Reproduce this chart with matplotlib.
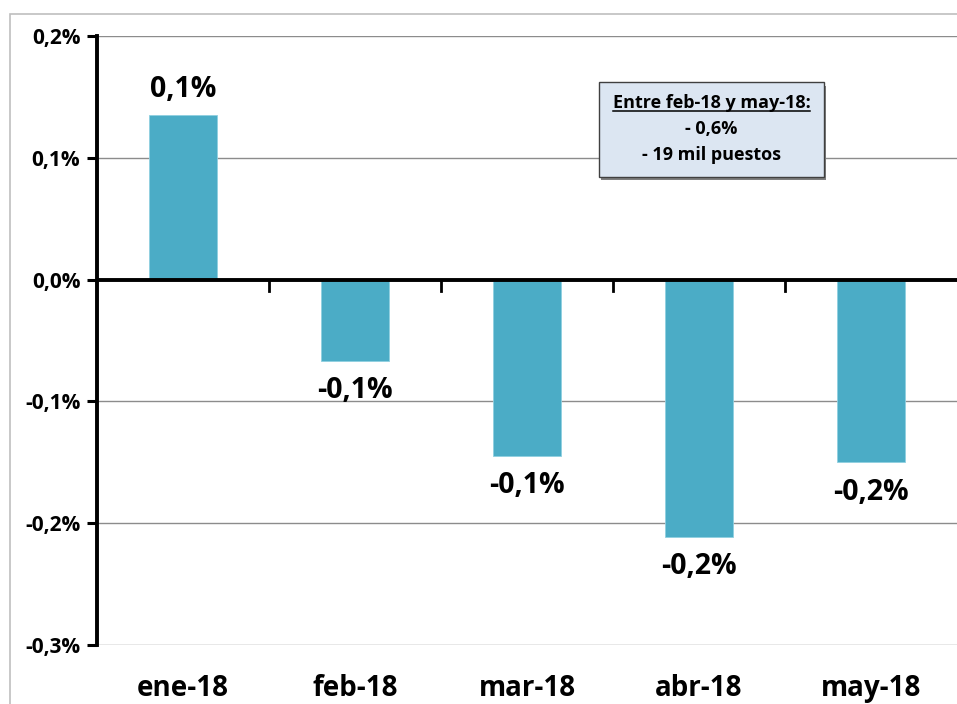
import matplotlib
matplotlib.use("Agg")
import matplotlib.pyplot as plt
from matplotlib.patches import Rectangle
from matplotlib.ticker import FuncFormatter, FixedLocator

months = ["ene-18", "feb-18", "mar-18", "abr-18", "may-18"]
changes = [0.135, -0.067, -0.145, -0.211, -0.150]
bar_labels = ["0,1%", "-0,1%", "-0,1%", "-0,2%", "-0,2%"]
y_ticks = [-0.3, -0.2, -0.1, 0.0, 0.1, 0.2]
note_lines = ["Entre feb-18 y may-18:", "- 0,6%", "- 19 mil puestos"]

plt.rcParams['font.family'] = ['Open Sans', 'DejaVu Sans']
plt.rcParams['font.weight'] = 'bold'

fig = plt.figure(figsize=(9.57, 7.04), dpi=100)
# outer chart frame
fig.patches.append(Rectangle((10 / 957, -0.05), 1.1, 0.05 + 1 - 14 / 704,
                             transform=fig.transFigure, fill=False,
                             edgecolor="#bfbfbf", linewidth=1.2))

ax = fig.add_axes([97 / 957, 1 - 645 / 704, 1 - 97 / 957, (645 - 36) / 704])
x = range(len(months))
ax.bar(x, changes, width=0.4, color="#4bacc6", edgecolor="#8fd0e0",
       linewidth=0.6, zorder=3)

ax.set_xlim(-0.5, len(months) - 0.5)
ax.set_ylim(-0.3, 0.2)
ax.yaxis.set_major_locator(FixedLocator(y_ticks))
ax.yaxis.set_major_formatter(FuncFormatter(lambda v, p: f"{v:.1f}%".replace(".", ",").replace("-0,0", "0,0")))
ax.grid(axis="y", color="#8c8c8c", linewidth=1, zorder=0)
ax.tick_params(axis="y", direction="out", length=7, width=2.2, labelsize=15, pad=5)
for lb in ax.get_yticklabels():
    lb.set_fontweight("bold")

for s in ["top", "right", "bottom"]:
    ax.spines[s].set_visible(False)
ax.spines["left"].set_linewidth(2.8)

# zero line with category separators
ax.axhline(0, color="black", linewidth=2.8, zorder=4)
for b in [0.5, 1.5, 2.5, 3.5]:
    ax.plot([b, b], [0, -0.009], color="black", linewidth=2, zorder=4,
            clip_on=False)

ax.set_xticks(list(x))
ax.set_xticklabels(months, fontsize=20, fontweight="bold")
ax.tick_params(axis="x", length=0, pad=21)

for i, (v, lbl) in enumerate(zip(changes, bar_labels)):
    if v >= 0:
        ax.annotate(lbl, (i, v), xytext=(0, 8), textcoords="offset points",
                    ha="center", va="bottom", fontsize=20.5, fontweight="bold")
    else:
        ax.annotate(lbl, (i, v), xytext=(0, -11), textcoords="offset points",
                    ha="center", va="top", fontsize=20.5, fontweight="bold")

# note box
bx0 = (599 - 97) / 860 * 5 - 0.5
bx1 = (824 - 97) / 860 * 5 - 0.5
by0 = (280 - 177) / 1220
by1 = (280 - 82) / 1220
ax.add_patch(Rectangle((bx0 + 0.012, by0 - 0.003), bx1 - bx0, by1 - by0,
                       facecolor="#7f7f7f", edgecolor="none", zorder=5))
ax.add_patch(Rectangle((bx0, by0), bx1 - bx0, by1 - by0,
                       facecolor="#dce6f2", edgecolor="#404040",
                       linewidth=1, zorder=6))
cx = (bx0 + bx1) / 2
line_y = [(280 - 103) / 1220, (280 - 129) / 1220, (280 - 155) / 1220]
texts = []
for s, yy in zip(note_lines, line_y):
    texts.append(ax.text(cx, yy, s, ha="center", va="center", fontsize=13,
                         fontweight="bold", zorder=7))

fig.canvas.draw()
r = fig.canvas.get_renderer()
bb = texts[0].get_window_extent(r).transformed(ax.transData.inverted())
ax.plot([bb.x0, bb.x1], [bb.y0 + 0.001, bb.y0 + 0.001], color="black",
        linewidth=1.1, zorder=7)

fig.savefig("out.png", dpi=100)
